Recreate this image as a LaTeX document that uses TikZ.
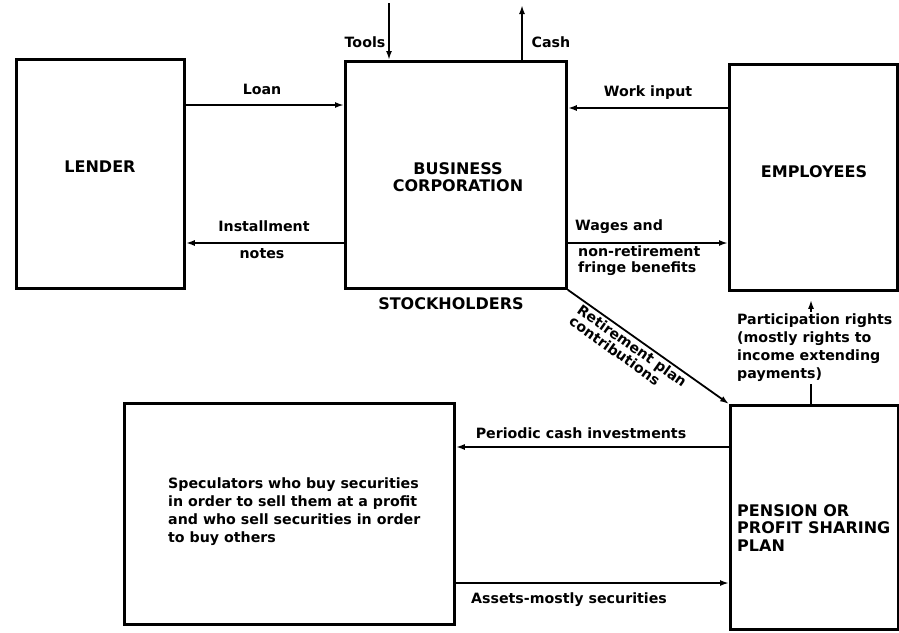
\documentclass[tikz,border=0pt]{standalone}
\usepackage{fontspec}
\setmainfont{DejaVu Sans}
\usetikzlibrary{arrows.meta}
\begin{document}
\begin{tikzpicture}[x=1pt,y=-1pt,
  box/.style={draw, line width=2.8pt, anchor=north west, inner sep=0pt},
  arr/.style={line width=1.8pt, -{Latex[length=9pt,width=6pt]}},
  conn/.style={line width=1.8pt},
  lbl/.style={font=\bfseries\fontsize{14.2}{18}\selectfont, inner sep=0pt},
  big/.style={font=\bfseries\fontsize{16}{17.5}\selectfont, inner sep=0pt, align=center}]
\useasboundingbox (0,0) rectangle (899,632);
% boxes
\node[box, minimum width=168pt, minimum height=229pt] (lender) at (15,58) {};
\node[box, minimum width=221pt, minimum height=227pt] (corp) at (344,60) {};
\node[box, minimum width=168pt, minimum height=226pt] (emp) at (728,63) {};
\node[box, minimum width=330pt, minimum height=221pt] (spec) at (123,402) {};
\node[box, minimum width=168pt, minimum height=224pt] (pension) at (729,404) {};
% box texts
\node[big] (lenderT) at (100,167) {LENDER};
\node[big] (corpT) at (458,177) {BUSINESS\\CORPORATION};
\node[big] (empT) at (814,172) {EMPLOYEES};
\node[big, align=left, anchor=west] (penT) at (737,528) {PENSION OR\\PROFIT SHARING\\PLAN};
\node[big] (stock) at (451,304) {STOCKHOLDERS};
\node[lbl, align=left, anchor=west] (specT) at (168,512) {Speculators who buy securities\\in order to sell them at a profit\\and who sell securities in order\\to buy others};
% coordinates
\coordinate (toolsTop) at (389,3);
\coordinate (cashTop) at (522,5);
\coordinate (px) at (811,0);
% connectors
\draw[arr] (lender.east |- 0,105) -- (corp.west |- 0,105);
\draw[arr] (corp.west |- 0,243) -- (lender.east |- 0,243);
\draw[arr] (toolsTop) -- (toolsTop |- corp.north);
\draw[arr] (cashTop |- corp.north) -- (cashTop);
\draw[arr] (emp.west |- 0,108) -- (corp.east |- 0,108);
\draw[arr] (corp.east |- 0,243) -- (emp.west |- 0,243);
\draw[arr] (corp.south east) -- node[lbl, sloped, below=2pt, pos=0.43, align=left, font=\bfseries\fontsize{14.2}{14}\selectfont] (retL) {Retirement plan\\contributions} (pension.north west);
\draw[arr] (pension.west |- 0,447) -- (spec.east |- 0,447);
\draw[arr] (spec.east |- 0,583) -- (pension.west |- 0,583);
% edge labels
\node[lbl] (loanL) at (262,89) {Loan};
\node[lbl] (instL) at (264,226) {Installment};
\node[lbl] (notesL) at (262,254) {notes};
\node[lbl] (toolsL) at (365,42) {Tools};
\node[lbl] (cashL) at (551,42) {Cash};
\node[lbl] (workL) at (648,93) {Work input};
\node[lbl, anchor=west] (wagesL) at (575,227) {Wages and};
\node[lbl, align=left, anchor=west, font=\bfseries\fontsize{14.2}{16}\selectfont] (nonret) at (578,261) {non-retirement\\fringe benefits};
\node[lbl] (periodL) at (581,433) {Periodic cash investments};
\node[lbl] (assetsL) at (569,600) {Assets-mostly securities};
\node[lbl, align=left, anchor=west, inner sep=2pt] (partL) at (735,348) {Participation rights\\(mostly rights to\\income extending\\payments)};
\draw[conn] (px |- pension.north) -- (px |- partL.south);
\draw[arr, shorten >=8pt] (px |- partL.north) -- (px |- emp.south);
\end{tikzpicture}
\end{document}
